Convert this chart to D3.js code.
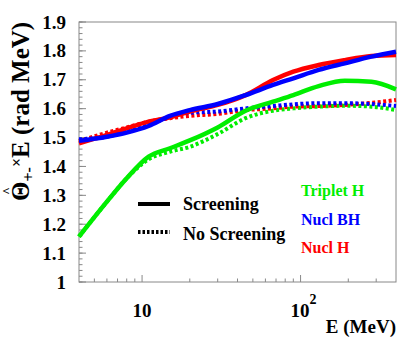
<!DOCTYPE html>
<html>
<head>
<meta charset="utf-8">
<script src="https://cdn.jsdelivr.net/npm/d3@7"></script>
<style>
  body { margin: 0; background: #fff; }
  text { font-family: "Liberation Serif", "DejaVu Serif", serif; font-weight: bold; }
</style>
</head>
<body>
<div id="chart"></div>
<script>
// Values (E in MeV, y in rad MeV)
var energy = [4, 6, 8, 11, 15, 20, 30, 45, 67, 90, 130, 190, 280, 400];

var tripletScreen   = [1.157, 1.278, 1.359, 1.434, 1.463, 1.490, 1.535, 1.593, 1.624, 1.647, 1.678, 1.697, 1.693, 1.667];
var tripletNoScreen = [1.157, 1.278, 1.359, 1.425, 1.451, 1.468, 1.512, 1.567, 1.593, 1.601, 1.607, 1.610, 1.607, 1.595];
var nuclBHScreen    = [1.489, 1.503, 1.517, 1.540, 1.575, 1.595, 1.616, 1.647, 1.682, 1.705, 1.734, 1.757, 1.780, 1.797];
var nuclBHNoScreen  = [1.494, 1.503, 1.520, 1.543, 1.572, 1.586, 1.590, 1.601, 1.609, 1.615, 1.619, 1.619, 1.616, 1.609];
var nuclHScreen     = [1.480, 1.509, 1.532, 1.555, 1.570, 1.590, 1.613, 1.647, 1.699, 1.728, 1.751, 1.768, 1.782, 1.786];
var nuclHNoScreen   = [1.487, 1.517, 1.535, 1.555, 1.567, 1.575, 1.582, 1.595, 1.601, 1.607, 1.609, 1.613, 1.620, 1.630];

var yTicks = [1, 1.1, 1.2, 1.3, 1.4, 1.5, 1.6, 1.7, 1.8, 1.9];
var yTickLabels = ["1", "1.1", "1.2", "1.3", "1.4", "1.5", "1.6", "1.7", "1.8", "1.9"];
var xMajorTicks = [10, 100];
var xMinorTicks = [5, 6, 7, 8, 9, 20, 30, 40, 50, 60, 70, 80, 90, 200, 300];

var svgWidth = 407;
var svgHeight = 339;
var margin = { top: 22, right: 11, bottom: 57, left: 79 };
var width = svgWidth - margin.left - margin.right;
var height = svgHeight - margin.top - margin.bottom;

var green = "#00ee00", blue = "#0000ff", red = "#ff0000";

var svg = d3.select("#chart").append("svg")
  .attr("width", svgWidth)
  .attr("height", svgHeight);

var chartGroup = svg.append("g")
  .attr("transform", `translate(${margin.left}, ${margin.top})`);

var xScale = d3.scaleLog().domain([4, 400]).range([0, width]);
var yScale = d3.scaleLinear().domain([1, 1.9]).range([height, 0]);

// Frame
chartGroup.append("rect")
  .attr("width", width).attr("height", height)
  .attr("fill", "none").attr("stroke", "#888").attr("stroke-width", 1);

// Y ticks (inside, left side)
var yMinor = d3.range(1, 1.9001, 0.02);
chartGroup.selectAll(".yminor").data(yMinor).enter().append("line")
  .attr("x1", 0).attr("x2", 3.5)
  .attr("y1", d => yScale(d)).attr("y2", d => yScale(d))
  .attr("stroke", "#888");
chartGroup.selectAll(".ymajor").data(yTicks).enter().append("line")
  .attr("x1", 0).attr("x2", 7)
  .attr("y1", d => yScale(d)).attr("y2", d => yScale(d))
  .attr("stroke", "#888");
chartGroup.selectAll(".ylab").data(yTicks).enter().append("text")
  .attr("x", -13).attr("y", d => yScale(d) + 6.5)
  .attr("text-anchor", "end").attr("font-size", 19)
  .text((d, i) => yTickLabels[i]);

// X ticks (inside, bottom)
chartGroup.selectAll(".xminor").data(xMinorTicks).enter().append("line")
  .attr("x1", d => xScale(d)).attr("x2", d => xScale(d))
  .attr("y1", height).attr("y2", height - 3.5)
  .attr("stroke", "#888");
chartGroup.selectAll(".xmajor").data(xMajorTicks).enter().append("line")
  .attr("x1", d => xScale(d)).attr("x2", d => xScale(d))
  .attr("y1", height).attr("y2", height - 7)
  .attr("stroke", "#888");

chartGroup.append("text")
  .attr("x", xScale(10)).attr("y", height + 35)
  .attr("text-anchor", "middle").attr("font-size", 19)
  .text("10");
var hundred = chartGroup.append("text")
  .attr("x", xScale(100) - 10).attr("y", height + 35)
  .attr("font-size", 19);
hundred.append("tspan").text("10");
hundred.append("tspan").attr("dy", -13).attr("font-size", 14).text("2");

// Axis titles
chartGroup.append("text")
  .attr("x", width).attr("y", height + 51)
  .attr("text-anchor", "end").attr("font-size", 19)
  .text("E (MeV)");

var yTitle = svg.append("text")
  .attr("transform", "translate(29, 201) rotate(-90)")
  .attr("font-size", 25);
yTitle.append("tspan").text("\u0398");
yTitle.append("tspan").attr("dy", 5).attr("font-size", 16).text("+-");
yTitle.append("tspan").attr("dy", -12).attr("font-size", 16).text("\u00d7");
yTitle.append("tspan").attr("dy", 7).text("E (rad MeV)");
svg.append("text")
  .attr("transform", "translate(11, 191) rotate(-90)")
  .attr("text-anchor", "middle").attr("font-size", 13)
  .text("^");

// Curves
var line = d3.line()
  .x((d, i) => xScale(energy[i]))
  .y(d => yScale(d))
  .curve(d3.curveMonotoneX);

var curves = [
  { values: tripletNoScreen, color: green, dotted: true },
  { values: nuclHNoScreen, color: red, dotted: true },
  { values: nuclBHNoScreen, color: blue, dotted: true },
  { values: tripletScreen, color: green, dotted: false },
  { values: nuclHScreen, color: red, dotted: false },
  { values: nuclBHScreen, color: blue, dotted: false }
];

var plotArea = chartGroup.append("g");
plotArea.selectAll("path").data(curves).enter().append("path")
  .attr("d", d => line(d.values))
  .attr("fill", "none")
  .attr("stroke", d => d.color)
  .attr("stroke-width", d => d.dotted ? 4 : 4.5)
  .attr("stroke-dasharray", d => d.dotted ? "3,2.5" : null);

// Legend
svg.append("line")
  .attr("x1", 138).attr("x2", 170).attr("y1", 204).attr("y2", 204)
  .attr("stroke", "#000").attr("stroke-width", 4);
svg.append("line")
  .attr("x1", 138).attr("x2", 170).attr("y1", 232).attr("y2", 232)
  .attr("stroke", "#000").attr("stroke-width", 4)
  .attr("stroke-dasharray", "2.5,2");
svg.append("text").attr("x", 183).attr("y", 210).attr("font-size", 18).text("Screening");
svg.append("text").attr("x", 183).attr("y", 240).attr("font-size", 18).text("No Screening");

svg.append("text").attr("x", 301).attr("y", 196).attr("font-size", 16).attr("fill", green).text("Triplet H");
svg.append("text").attr("x", 301).attr("y", 225).attr("font-size", 16).attr("fill", blue).text("Nucl BH");
svg.append("text").attr("x", 301).attr("y", 253).attr("font-size", 16).attr("fill", red).text("Nucl H");
</script>
</body>
</html>
